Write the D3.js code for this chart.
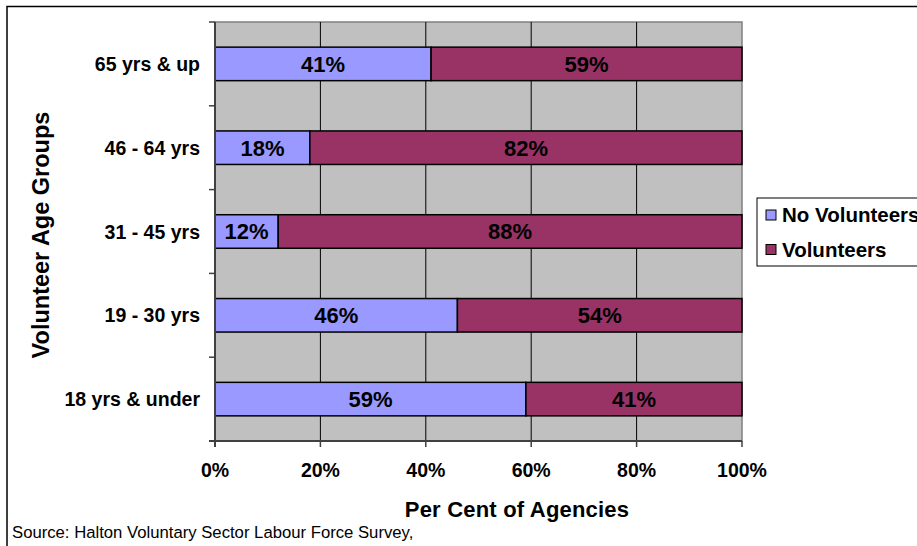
<!DOCTYPE html>
<html><head><meta charset="utf-8">
<script src="https://cdn.jsdelivr.net/npm/d3@7"></script>
<style>body{margin:0;background:#fff}svg{display:block}text{font-family:"Liberation Sans",Arial,sans-serif}</style>
</head><body>
<script>
const categories = ["65 yrs & up","46 - 64 yrs","31 - 45 yrs","19 - 30 yrs","18 yrs & under"];
const noVolunteers = [41,18,12,46,59];
const volunteers = [59,82,88,54,41];
const seriesNames = ["No Volunteers","Volunteers"];
const xTicks = [0,20,40,60,80,100];
const colors = ["#9999FF","#993366"];

const W=917,H=546;
const svg=d3.select("body").append("svg").attr("width",W).attr("height",H);
svg.append("rect").attr("x",7).attr("y",6.5).attr("width",930).attr("height",560).attr("fill","#fff").attr("stroke","#000").attr("stroke-width",1.5);

const L=215,R=742,T=22,B=441;
const x=d3.scaleLinear().domain([0,100]).range([L,R]);
const y=d3.scaleBand().domain(categories).range([T,B]).paddingInner(0.6).paddingOuter(0.3);

svg.append("rect").attr("x",L).attr("y",T).attr("width",R-L).attr("height",B-T).attr("fill","#C0C0C0").attr("stroke","#808080").attr("stroke-width",1.5);
svg.append("g").selectAll("line").data(xTicks.slice(1,-1)).join("line")
 .attr("x1",d=>x(d)).attr("x2",d=>x(d)).attr("y1",T).attr("y2",B).attr("stroke","#000").attr("stroke-width",1);

const rows=categories.map((c,i)=>({c,a:noVolunteers[i],b:volunteers[i]}));
const stack=d3.stack().keys(["a","b"])(rows);
stack.forEach((s,k)=>{
  const g=svg.append("g");
  g.selectAll("rect").data(s).join("rect")
   .attr("x",d=>x(d[0])).attr("width",d=>x(d[1])-x(d[0]))
   .attr("y",d=>y(d.data.c)).attr("height",y.bandwidth())
   .attr("fill",colors[k]).attr("stroke","#000").attr("stroke-width",1.5);
  g.selectAll("text").data(s).join("text")
   .attr("x",d=>(x(d[0])+x(d[1]))/2).attr("y",d=>y(d.data.c)+y.bandwidth()/2)
   .attr("dy","0.36em").attr("text-anchor","middle").attr("font-weight","bold").attr("font-size",22)
   .attr("fill","#000").text(d=>(d[1]-d[0])+"%");
});

// y axis
const step=y.step();
const yb=d3.range(categories.length+1).map(i=>T+i*step);
svg.append("line").attr("x1",L).attr("x2",L).attr("y1",T).attr("y2",B+6).attr("stroke","#404040").attr("stroke-width",2);
svg.append("line").attr("x1",L-6).attr("x2",R).attr("y1",B).attr("y2",B).attr("stroke","#404040").attr("stroke-width",2);
svg.append("g").selectAll("line").data(yb).join("line").attr("x1",L-6).attr("x2",L).attr("y1",d=>d).attr("y2",d=>d).attr("stroke","#404040").attr("stroke-width",1.5);
svg.append("g").selectAll("line").data(xTicks).join("line").attr("x1",d=>x(d)).attr("x2",d=>x(d)).attr("y1",B).attr("y2",B+6).attr("stroke","#404040").attr("stroke-width",1.5);

svg.append("g").selectAll("text").data(categories).join("text")
 .attr("x",L-15).attr("y",d=>y(d)+y.bandwidth()/2).attr("dy","0.36em").attr("text-anchor","end")
 .attr("font-weight","bold").attr("font-size",19.5).text(d=>d);
svg.append("g").selectAll("text").data(xTicks).join("text")
 .attr("x",d=>x(d)).attr("y",477).attr("text-anchor","middle")
 .attr("font-weight","bold").attr("font-size",19.5).text(d=>d+"%");

svg.append("text").attr("x",517).attr("y",517).attr("text-anchor","middle").attr("font-weight","bold").attr("font-size",22).attr("letter-spacing",0.2).text("Per Cent of Agencies");
svg.append("text").attr("transform","translate(49,235) rotate(-90)").attr("text-anchor","middle").attr("font-weight","bold").attr("font-size",23.5).text("Volunteer Age Groups");
svg.append("text").attr("x",12).attr("y",538).attr("font-size",16.7).text("Source: Halton Voluntary Sector Labour Force Survey,");

// legend
const lg=svg.append("g");
lg.append("rect").attr("x",757).attr("y",198).attr("width",200).attr("height",68).attr("fill","#fff").attr("stroke","#000").attr("stroke-width",1);
seriesNames.forEach((n,i)=>{
  const cy=215+i*34.5;
  lg.append("rect").attr("x",766).attr("y",cy-5).attr("width",10).attr("height",10).attr("fill",colors[i]).attr("stroke","#000").attr("stroke-width",1);
  lg.append("text").attr("x",782).attr("y",cy).attr("dy","0.36em").attr("font-weight","bold").attr("font-size",20.5).text(n);
});
</script>
</body></html>
